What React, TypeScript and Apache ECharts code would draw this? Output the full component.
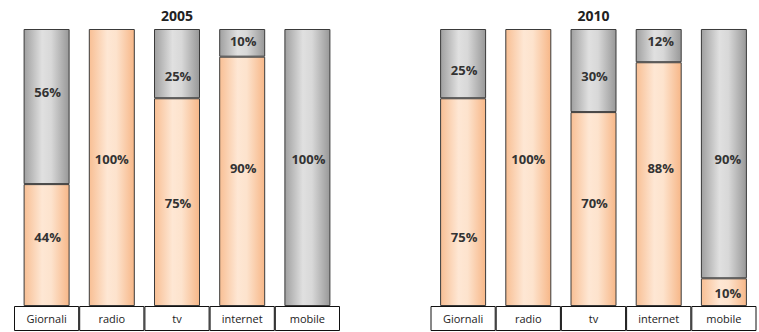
import React, { useEffect, useRef } from "react";
import * as echarts from "echarts";

const categories = ["Giornali", "radio", "tv", "internet", "mobile"];
const years = ["2005", "2010"];
const peach2005 = [44, 100, 75, 90, 0];
const gray2005 = [56, 0, 25, 10, 100];
const peach2010 = [75, 100, 70, 88, 10];
const gray2010 = [25, 0, 30, 12, 90];

// label placement tweaks (styling, px) to mimic the original label positions
const peachDy2005 = [-8, -9, 1, -13, 0];
const grayDy2005 = [-15, 0, 12, -2, -9];
const peachDy2010 = [35, -9, -6, -16, 1];
const grayDy2010 = [6, 0, 5, -5, 5];
const dx2010 = [1, 0, 1, 2, 4];
const dx2005 = [1, 0, 1, 1, 1];

const FONT = "'Open Sans', 'DejaVu Sans', sans-serif";

const peachFill = new echarts.graphic.LinearGradient(0, 0, 1, 0, [
  { offset: 0, color: "#f8bf94" },
  { offset: 0.4, color: "#fee7d4" },
  { offset: 0.6, color: "#fde3cd" },
  { offset: 1, color: "#f7b788" },
]);
const grayFill = new echarts.graphic.LinearGradient(0, 0, 1, 0, [
  { offset: 0, color: "#a0a0a0" },
  { offset: 0.4, color: "#e0e0e0" },
  { offset: 0.6, color: "#d8d8d8" },
  { offset: 1, color: "#989898" },
]);

const toData = (arr: number[], dy: number[], dx: number[]) =>
  arr.map((v, i) =>
    v === 0 ? null : { value: v, label: { offset: [dx[i], dy[i]] } }
  );

export default function App() {
  const ref = useRef<HTMLDivElement>(null);
  useEffect(() => {
    document.body.style.margin = "0";
    const chart = echarts.init(ref.current!, null, { renderer: "svg" });
    const panels = [
      { left: 14, peach: peach2005, gray: gray2005, pdy: peachDy2005, gdy: grayDy2005, dx: dx2005 },
      { left: 430.5, peach: peach2010, gray: gray2010, pdy: peachDy2010, gdy: grayDy2010, dx: dx2010 },
    ];
    const W = 326;
    const grid: any[] = [];
    const xAxis: any[] = [];
    const yAxis: any[] = [];
    const series: any[] = [];
    const labelStyle = {
      show: true,
      position: "inside",
      fontFamily: FONT,
      fontWeight: "bold",
      fontSize: 13,
      color: "#333",
      formatter: (p: any) => (p.value ? p.value + "%" : ""),
    };
    panels.forEach((p, i) => {
      const gi = i * 2;
      grid.push({ left: p.left, top: 29, width: W, height: 277 });
      grid.push({ left: p.left, top: 306, width: W, height: 25 });
      xAxis.push({ type: "category", data: categories, gridIndex: gi, show: false });
      xAxis.push({ type: "category", data: categories, gridIndex: gi + 1, show: false });
      yAxis.push({ type: "value", min: 0, max: 100, gridIndex: gi, show: false });
      yAxis.push({ type: "value", min: 0, max: 1, gridIndex: gi + 1, show: false });
      const common = {
        type: "bar",
        stack: "s" + i,
        xAxisIndex: gi,
        yAxisIndex: gi,
        barWidth: 46,
        label: labelStyle,
      };
      series.push({
        ...common,
        name: "peach" + i,
        data: toData(p.peach, p.pdy, p.dx),
        itemStyle: { color: peachFill, borderColor: "#3a3a3a", borderWidth: 1 },
      });
      series.push({
        ...common,
        name: "gray" + i,
        data: toData(p.gray, p.gdy, p.dx),
        itemStyle: { color: grayFill, borderColor: "#3a3a3a", borderWidth: 1 },
      });
      series.push({
        type: "bar",
        xAxisIndex: gi + 1,
        yAxisIndex: gi + 1,
        barWidth: "100%",
        data: categories.map(() => 1),
        silent: true,
        itemStyle: { color: "#fff", borderColor: "#111", borderWidth: 1 },
        label: {
          show: true,
          position: "inside",
          formatter: "{b}",
          fontFamily: FONT,
          fontSize: 11,
          color: "#222",
        },
      });
    });
    chart.setOption({
      animation: false,
      grid,
      xAxis,
      yAxis,
      series,
      graphic: years.map((y, i) => ({
        type: "text",
        x: panels[i].left + W / 2,
        y: 15,
        style: {
          text: y,
          textAlign: "center",
          textVerticalAlign: "middle",
          fontFamily: FONT,
          fontWeight: "bold",
          fontSize: 14,
          fill: "#222",
        },
      })),
    });
    return () => chart.dispose();
  }, []);
  return <div ref={ref} style={{ width: 759, height: 332 }} />;
}
